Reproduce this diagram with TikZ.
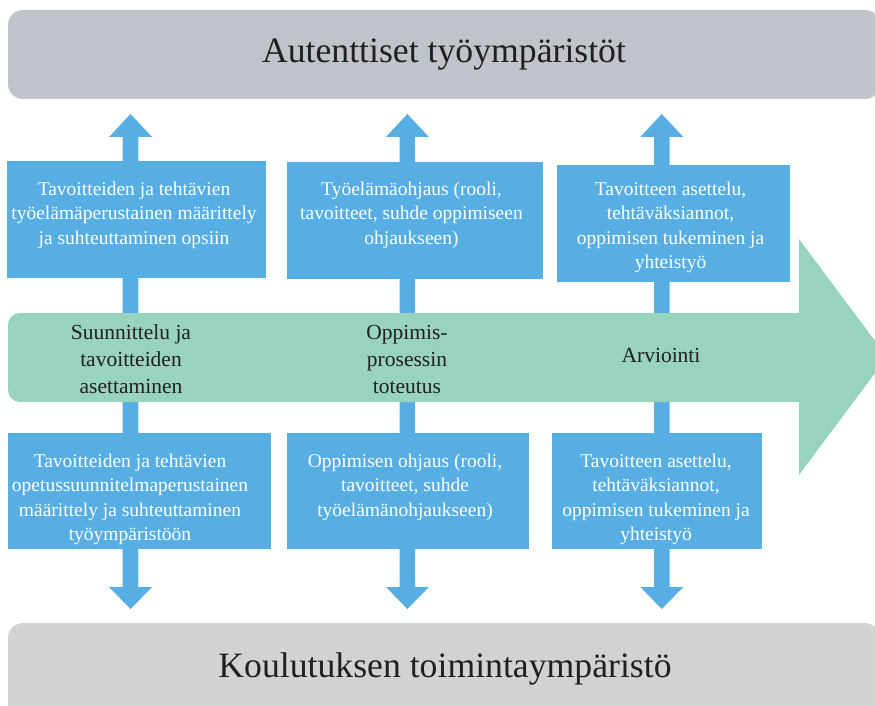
\documentclass[tikz,border=0pt]{standalone}
\usepackage{fontspec}
\setmainfont{Liberation Serif}
\definecolor{bandtop}{HTML}{BEC4CA}
\definecolor{bandbot}{HTML}{D1D2D4}
\definecolor{boxblue}{HTML}{56AEE2}
\definecolor{flowgreen}{HTML}{98D3BD}
\definecolor{ink}{HTML}{231F20}
\newcommand\firstline[1]{\rule{0pt}{#1}}
\begin{document}
\begin{tikzpicture}[x=1pt,y=-1pt,
  bluebox/.style={fill=boxblue, draw=none, inner sep=0pt, anchor=north west},
  boxtext/.style={text=white, font=\fontsize{19.5}{24.5}\selectfont, align=center, inner sep=0pt, anchor=north},
  flowtext/.style={text=ink, font=\fontsize{21.5}{27}\selectfont, align=center, inner sep=0pt, anchor=north},
  titletext/.style={text=ink, font=\fontsize{35.7}{40}\selectfont, inner sep=0pt, anchor=base},
  shaft/.style={fill=boxblue}
]
\useasboundingbox (0,0) rectangle (875,706);
\clip (0,0) rectangle (875,706);
% bands
\fill[bandtop, rounded corners=15pt] (8,10) rectangle (880,99);
\fill[bandbot, rounded corners=15pt] (8,623) rectangle (880,760);
\node[titletext] (toptitle) at (444,62.5) {Autenttiset työympäristöt};
\node[titletext] (bottitle) at (445,677) {Koulutuksen toimintaympäristö};
% vertical double arrows
\foreach \cx in {130.5,407.4,661.8}{
  \fill[shaft] (\cx-21.5,137) -- (\cx,114) -- (\cx+21.5,137) -- (\cx+7.8,137)
     -- (\cx+7.8,587) -- (\cx+21.5,587) -- (\cx,609) -- (\cx-21.5,587)
     -- (\cx-7.8,587) -- (\cx-7.8,137) -- cycle;
}
% green process arrow
\fill[flowgreen] (400,402) [rounded corners=12pt] -- (8,402) -- (8,313) -- (400,313)
   [sharp corners] -- (799,313) -- (799,239) -- (887,357) -- (799,475) -- (799,402) -- cycle;
% blue boxes
\node[bluebox, minimum width=259pt, minimum height=117pt] (b1) at (7,161) {};
\node[bluebox, minimum width=256pt, minimum height=117pt] (b2) at (287,162) {};
\node[bluebox, minimum width=233pt, minimum height=117pt] (b3) at (557,165) {};
\node[bluebox, minimum width=263pt, minimum height=116pt] (b4) at (8,433) {};
\node[bluebox, minimum width=242pt, minimum height=116pt] (b5) at (287,433) {};
\node[bluebox, minimum width=210pt, minimum height=116pt] (b6) at (552,433) {};
% box texts
\node[boxtext] (t1) at (134,180) {\firstline{15pt}Tavoitteiden ja tehtävien\\työelämäperustainen määrittely\\ja suhteuttaminen opsiin};
\node[boxtext] (t2) at (411.5,180) {\firstline{15pt}Työelämäohjaus (rooli,\\tavoitteet, suhde oppimiseen\\ohjaukseen)};
\node[boxtext] (t3) at (670.5,180) {\firstline{15pt}Tavoitteen asettelu,\\tehtäväksiannot,\\oppimisen tukeminen ja\\yhteistyö};
\node[boxtext] (t4) at (130,452) {\firstline{15pt}Tavoitteiden ja tehtävien\\opetussuunnitelmaperustainen\\määrittely ja suhteuttaminen\\työympäristöön};
\node[boxtext] (t5) at (405,452) {\firstline{15pt}Oppimisen ohjaus (rooli,\\tavoitteet, suhde\\työelämänohjaukseen)};
\node[boxtext] (t6) at (656,452) {\firstline{15pt}Tavoitteen asettelu,\\tehtäväksiannot,\\oppimisen tukeminen ja\\yhteistyö};
% process texts
\node[flowtext] (g1) at (131,322) {\firstline{17pt}Suunnittelu ja\\tavoitteiden\\asettaminen};
\node[flowtext] (g2) at (407,322) {\firstline{17pt}Oppimis-\\prosessin\\toteutus};
\node[titletext, font=\fontsize{21.5}{27}\selectfont] (g3) at (661,362) {Arviointi};
\end{tikzpicture}
\end{document}
